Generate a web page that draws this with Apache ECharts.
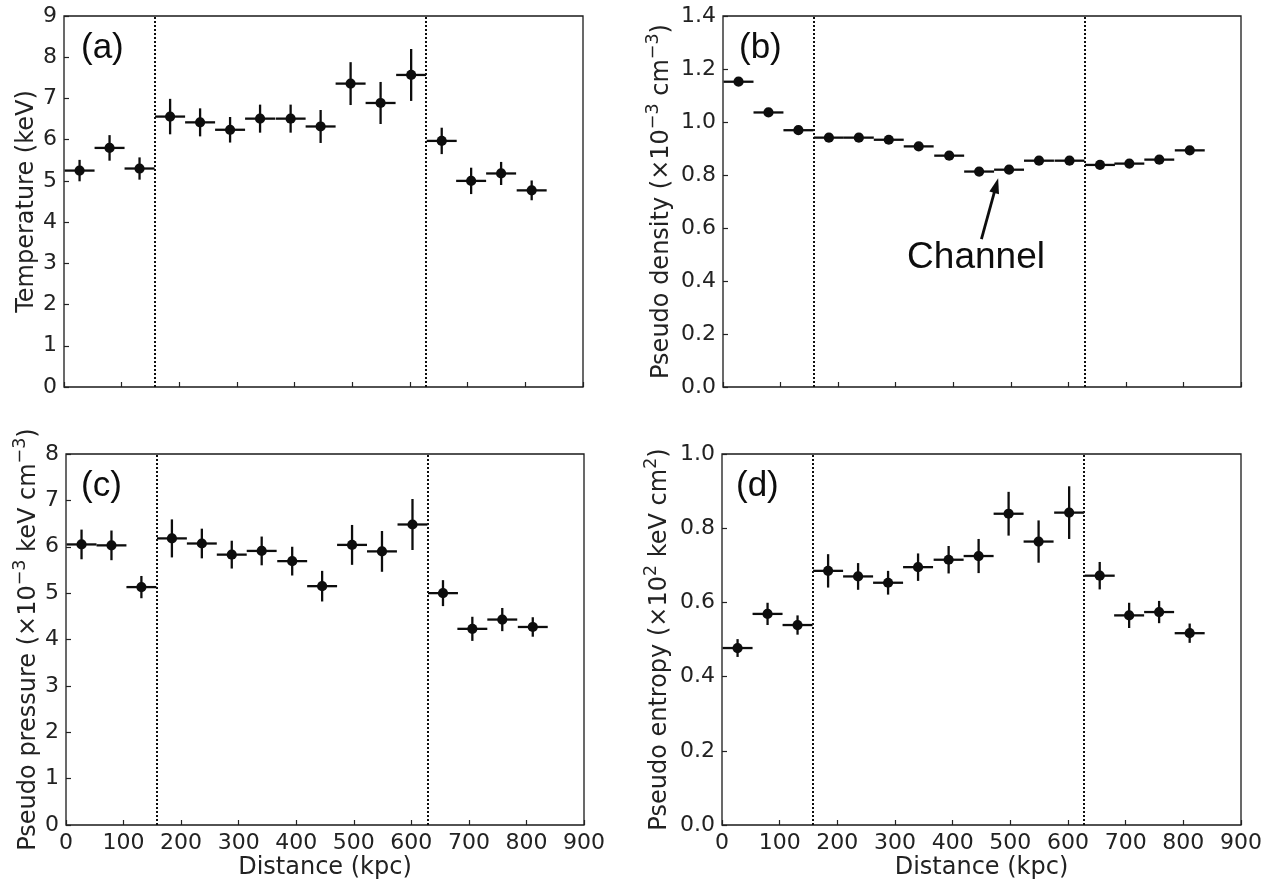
<!DOCTYPE html>
<html><head><meta charset="utf-8">
<script src="https://cdn.jsdelivr.net/npm/echarts@6/dist/echarts.min.js"></script>
<style>html,body{margin:0;padding:0;background:#fff}#c{width:1285px;height:883px}</style>
</head><body><div id="c"></div>
<script>
// ---- data ----
const distance = [27, 79, 131, 184, 236, 288, 340, 393, 445, 497, 549, 602, 655, 706, 758, 811];
const binHalfWidth = [26, 26, 26, 26, 26, 26, 26, 26, 26, 26, 26, 26, 26, 26, 26, 26];
const temperature = [5.25, 5.80, 5.30, 6.56, 6.42, 6.24, 6.51, 6.51, 6.32, 7.36, 6.89, 7.57, 5.97, 5.00, 5.18, 4.77];
const temperatureErr = [0.26, 0.31, 0.27, 0.43, 0.34, 0.31, 0.34, 0.34, 0.40, 0.52, 0.51, 0.63, 0.32, 0.32, 0.28, 0.24];
const density = [1.152, 1.036, 0.969, 0.941, 0.941, 0.933, 0.908, 0.873, 0.813, 0.820, 0.854, 0.854, 0.838, 0.843, 0.858, 0.893];
const densityErr = [0.008, 0.006, 0.006, 0.005, 0.005, 0.005, 0.005, 0.005, 0.005, 0.005, 0.005, 0.005, 0.005, 0.005, 0.005, 0.006];
const pressure = [6.05, 6.03, 5.13, 6.18, 6.07, 5.83, 5.91, 5.69, 5.15, 6.04, 5.90, 6.48, 5.00, 4.23, 4.43, 4.27];
const pressureErr = [0.32, 0.32, 0.24, 0.41, 0.32, 0.30, 0.31, 0.31, 0.33, 0.43, 0.44, 0.55, 0.28, 0.26, 0.25, 0.21];
const entropy = [0.477, 0.569, 0.539, 0.685, 0.670, 0.653, 0.695, 0.715, 0.725, 0.839, 0.764, 0.842, 0.672, 0.565, 0.574, 0.517];
const entropyErr = [0.024, 0.030, 0.026, 0.045, 0.036, 0.032, 0.037, 0.037, 0.046, 0.059, 0.057, 0.071, 0.037, 0.034, 0.030, 0.026];
const boundaries = [157, 628];
const panelLabels = ['(a)', '(b)', '(c)', '(d)'];
const channelArrowFrom = [449, 0.558];
const channelArrowTo = [474.6, 0.760];
const channelTextAt = [439.6, 0.488];

// ---- chart ----
const INK = '#0d0d0d';
const FONT = 'DejaVu Sans';
const chart = echarts.init(document.getElementById('c'), null, {renderer: 'canvas'});

function pack(vals, errs) {
  return distance.map((d, i) => [d, vals[i], binHalfWidth[i], errs[i]]);
}
function renderErr(params, api) {
  const x = api.value(0), y = api.value(1), xe = api.value(2), ye = api.value(3);
  const c = api.coord([x, y]);
  const l = api.coord([x - xe, y]), r = api.coord([x + xe, y]);
  const t = api.coord([x, y + ye]), b = api.coord([x, y - ye]);
  const st = {stroke: INK, lineWidth: 2.3};
  return {type: 'group', children: [
    {type: 'line', shape: {x1: l[0], y1: l[1], x2: r[0], y2: r[1]}, style: st},
    {type: 'line', shape: {x1: t[0], y1: t[1], x2: b[0], y2: b[1]}, style: st},
    {type: 'circle', shape: {cx: c[0], cy: c[1], r: 5.1}, style: {fill: INK}}
  ]};
}
const boundaryLines = {
  silent: true, symbol: 'none', animation: false,
  label: {show: false},
  lineStyle: {type: [2, 2], color: INK, width: 2},
  data: boundaries.map(v => ({xAxis: v}))
};

const grids = [
  {left: 64, top: 16, width: 519, height: 371},
  {left: 723, top: 16, width: 518, height: 371},
  {left: 66, top: 454, width: 518, height: 371},
  {left: 722, top: 454, width: 519, height: 371}
].map(g => Object.assign(g, {show: true, borderColor: '#1a1a1a', borderWidth: 1.3, backgroundColor: 'transparent'}));

function xAxis(i, showLabels) {
  return {
    type: 'value', gridIndex: i, min: 0, max: 900, interval: 100,
    axisLine: {show: false}, splitLine: {show: false},
    axisTick: {show: true, inside: true, length: 5, lineStyle: {color: '#222', width: 1.2}},
    axisLabel: {show: showLabels, color: '#222', fontSize: 22, fontFamily: FONT, margin: 7},
    name: showLabels ? 'Distance (kpc)' : '', nameLocation: 'middle', nameGap: 31,
    nameTextStyle: {color: '#222', fontSize: 24, fontFamily: FONT}
  };
}
const rich = {
  n: {fontSize: 24, lineHeight: 30, verticalAlign: 'bottom', color: '#222', fontFamily: FONT},
  s: {fontSize: 17.5, lineHeight: 18, verticalAlign: 'top', color: '#222', fontFamily: FONT}
};
function yAxis(i, max, interval, decimals, name, gap) {
  return {
    type: 'value', gridIndex: i, min: 0, max: max, interval: interval,
    axisLine: {show: false}, splitLine: {show: false},
    axisTick: {show: true, inside: true, length: 5, lineStyle: {color: '#222', width: 1.2}},
    axisLabel: {color: '#222', fontSize: 22, fontFamily: FONT, margin: 7,
      formatter: v => Number(v).toFixed(decimals)},
    name: name, nameLocation: 'middle', nameGap: gap,
    nameTextStyle: {color: '#222', fontSize: 24, fontFamily: FONT, rich: rich}
  };
}

const labelPos = [[81, 31], [739, 31], [81, 469], [736, 469]];
const option = {
  animation: false,
  backgroundColor: '#fff',
  textStyle: {fontFamily: FONT},
  title: panelLabels.map((t, i) => ({
    text: t, left: labelPos[i][0], top: labelPos[i][1], padding: 0,
    textStyle: {fontSize: 35, fontWeight: 'normal', fontFamily: 'Liberation Sans', color: INK}
  })),
  grid: grids,
  xAxis: [xAxis(0, false), xAxis(1, false), xAxis(2, true), xAxis(3, true)],
  yAxis: [
    yAxis(0, 9, 1, 0, '{n|Temperature (keV)}', 24),
    yAxis(1, 1.4, 0.2, 1, '{n|Pseudo density (×10}{s|−3}{n| cm}{s|−3}{n|)}', 49),
    yAxis(2, 8, 1, 0, '{n|Pseudo pressure (×10}{s|−3}{n| keV cm}{s|−3}{n|)}', 23),
    yAxis(3, 1.0, 0.2, 1, '{n|Pseudo entropy (×10}{s|2}{n| keV cm}{s|2}{n|)}', 50)
  ],
  series: [
    {type: 'custom', xAxisIndex: 0, yAxisIndex: 0, renderItem: renderErr,
     encode: {x: 0, y: 1}, data: pack(temperature, temperatureErr), markLine: boundaryLines},
    {type: 'custom', xAxisIndex: 1, yAxisIndex: 1, renderItem: renderErr,
     encode: {x: 0, y: 1}, data: pack(density, densityErr), markLine: boundaryLines},
    {type: 'custom', xAxisIndex: 2, yAxisIndex: 2, renderItem: renderErr,
     encode: {x: 0, y: 1}, data: pack(pressure, pressureErr), markLine: boundaryLines},
    {type: 'custom', xAxisIndex: 3, yAxisIndex: 3, renderItem: renderErr,
     encode: {x: 0, y: 1}, data: pack(entropy, entropyErr), markLine: boundaryLines},
    // Channel annotation (arrow + text) in panel (b)
    {type: 'line', xAxisIndex: 1, yAxisIndex: 1, data: [], silent: true,
     markLine: {
       silent: true, animation: false, label: {show: false},
       symbol: ['none', 'triangle'], symbolSize: [1, 1],
       lineStyle: {type: 'solid', color: INK, width: 2.8},
       data: [[
         {coord: channelArrowFrom, symbol: 'none'},
         {coord: channelArrowTo, symbol: 'triangle', symbolSize: [10, 15]}
       ]]
     },
     markPoint: {
       silent: true, animation: false,
       data: [{coord: channelTextAt, symbol: 'circle', symbolSize: 0,
         label: {show: true, position: 'inside', formatter: 'Channel', fontSize: 37,
           fontFamily: 'Liberation Sans', color: INK}}]
     }}
  ]
};
chart.setOption(option);
</script>
</body></html>
